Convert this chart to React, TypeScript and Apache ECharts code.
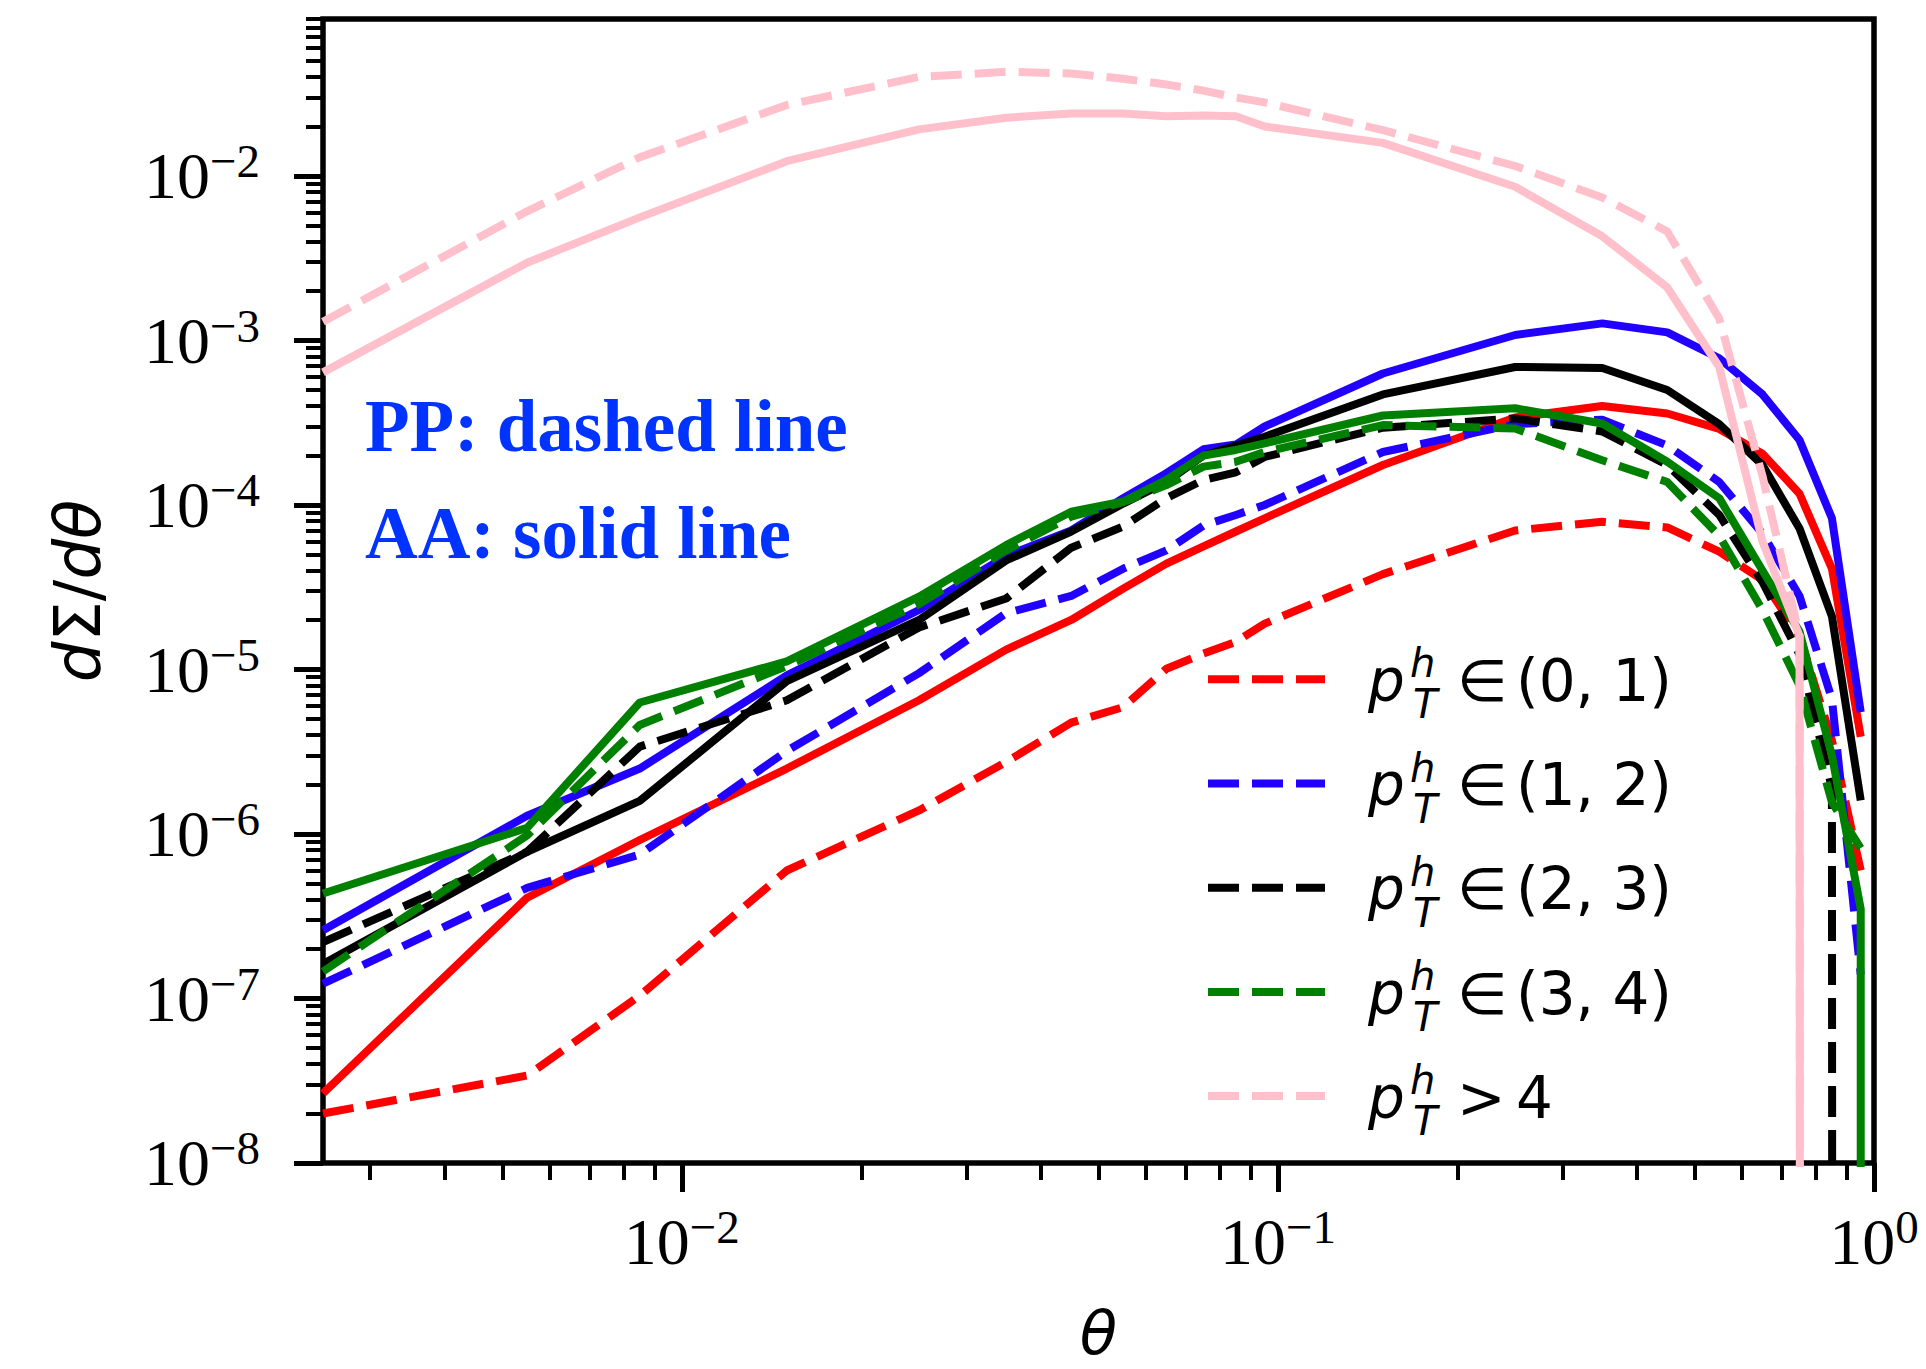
import React, { useEffect, useRef } from 'react';
import * as echarts from 'echarts';

// ---------- data (theta bin centres and dSigma/dtheta values) ----------
const theta = [0.0025, 0.0055, 0.0085, 0.015, 0.025, 0.035, 0.045, 0.055, 0.065, 0.075, 0.085, 0.095, 0.15, 0.25, 0.35, 0.45, 0.55, 0.65, 0.75, 0.85, 0.95];
// AA, pT in (3,4): the curve drops to zero right after its last point
const thetaAA34 = [...theta, 0.95];

const ppBin01 = [2.0e-8, 3.4e-8, 1.04e-7, 6.0e-7, 1.39e-6, 2.74e-6, 4.75e-6, 5.9e-6, 1.01e-5, 1.25e-5, 1.47e-5, 1.9e-5, 3.8e-5, 7.0e-5, 7.9e-5, 7.3e-5, 5.2e-5, 3.5e-5, 1.6e-5, 3.7e-6, 6.0e-7];
const aaBin01 = [2.65e-8, 4.1e-7, 9.2e-7, 2.5e-6, 6.5e-6, 1.32e-5, 2.0e-5, 3.1e-5, 4.4e-5, 5.6e-5, 6.9e-5, 8.3e-5, 1.75e-4, 3.4e-4, 4.0e-4, 3.6e-4, 2.9e-4, 2.05e-4, 1.17e-4, 4.1e-5, 3.9e-6];
const ppBin12 = [1.23e-7, 4.7e-7, 7.5e-7, 3.2e-6, 9.5e-6, 2.2e-5, 2.8e-5, 4.1e-5, 5.3e-5, 7.5e-5, 8.7e-5, 1.0e-4, 2.1e-4, 3.1e-4, 3.3e-4, 2.3e-4, 1.38e-4, 6.7e-5, 2.8e-5, 6.6e-6, 1.4e-7];
const aaBin12 = [2.6e-7, 1.29e-6, 2.5e-6, 9.2e-6, 2.3e-5, 4.9e-5, 7.0e-5, 1.1e-4, 1.56e-4, 2.18e-4, 2.33e-4, 3.0e-4, 6.3e-4, 1.08e-3, 1.27e-3, 1.12e-3, 7.8e-4, 4.7e-4, 2.48e-4, 8.3e-5, 5.5e-6];
const ppBin23 = [2.2e-7, 7.8e-7, 3.4e-6, 6.5e-6, 1.8e-5, 2.7e-5, 5.5e-5, 7.4e-5, 1.1e-4, 1.42e-4, 1.58e-4, 1.96e-4, 2.95e-4, 3.36e-4, 2.8e-4, 1.75e-4, 8.7e-5, 3.4e-5, 1.23e-5, 1.9e-6, 0];
const aaBin23 = [1.62e-7, 7.8e-7, 1.59e-6, 8.5e-6, 2.0e-5, 4.6e-5, 6.9e-5, 1.02e-4, 1.38e-4, 2.0e-4, 2.3e-4, 2.6e-4, 4.7e-4, 6.9e-4, 6.8e-4, 5.0e-4, 3.1e-4, 1.75e-4, 7.2e-5, 2.1e-5, 1.6e-6];
const ppBin34 = [1.46e-7, 9.8e-7, 4.6e-6, 1.05e-5, 2.5e-5, 5.3e-5, 8.5e-5, 1.04e-4, 1.32e-4, 1.71e-4, 1.83e-4, 2.1e-4, 3.06e-4, 2.92e-4, 1.87e-4, 1.38e-4, 6.5e-5, 2.3e-5, 8.0e-6, 1.56e-6, 8.2e-7];
const aaBin34 = [4.35e-7, 1.09e-6, 6.3e-6, 1.12e-5, 2.77e-5, 5.7e-5, 9.1e-5, 1.05e-4, 1.42e-4, 2.0e-4, 2.16e-4, 2.37e-4, 3.5e-4, 3.87e-4, 3.13e-4, 1.83e-4, 1.1e-4, 4.0e-5, 1.7e-5, 3.0e-6, 3.5e-7, 0];
const ppBin4 = [1.3e-3, 6.1e-3, 1.3e-2, 2.7e-2, 4.0e-2, 4.3e-2, 4.2e-2, 3.9e-2, 3.6e-2, 3.3e-2, 3.0e-2, 2.8e-2, 1.9e-2, 1.15e-2, 7.4e-3, 4.6e-3, 1.36e-3, 1.5e-4, 1.6e-5, 0, 0];
const aaBin4 = [6.4e-4, 2.97e-3, 5.6e-3, 1.23e-2, 1.92e-2, 2.26e-2, 2.4e-2, 2.4e-2, 2.31e-2, 2.33e-2, 2.31e-2, 2.0e-2, 1.59e-2, 8.6e-3, 4.3e-3, 2.1e-3, 6.9e-4, 6.0e-5, 1.6e-5, 0, 0];

const legendRelation = ['\u2208', '\u2208', '\u2208', '\u2208', '>'];
const legendRange = ['(0, 1)', '(1, 2)', '(2, 3)', '(3, 4)', '4'];

const xMajorTicks = [0.01, 0.1, 1];
const yMajorTicks = [1e-8, 1e-7, 1e-6, 1e-5, 1e-4, 1e-3, 1e-2];
const minorMultipliers = [2, 3, 4, 5, 6, 7, 8, 9];
const xDecades = [1e-3, 1e-2, 1e-1];
const yDecades = [1e-8, 1e-7, 1e-6, 1e-5, 1e-4, 1e-3, 1e-2];

const X_MIN = 0.0025, X_MAX = 1;
const Y_MIN = 0.99999e-8, Y_MAX = 0.09;

const xMinorTicks = xDecades.flatMap((d) => minorMultipliers.map((m) => m * d)).filter((v) => v >= X_MIN && v <= X_MAX);
const yMinorTicks = yDecades.flatMap((d) => minorMultipliers.map((m) => m * d)).filter((v) => v >= Y_MIN && v <= Y_MAX);

// ---------- styling ----------
const W = 1926, H = 1369;
const GRID = { left: 323, right: 52, top: 19, bottom: 206 };
const RED = '#ff0000', BLUE = '#2200ff', BLACK = '#000000', GREEN = '#008000', PINK = '#ffc0cb';
const TEXT_BLUE = '#0033ff';
const LW = 8;
const DASH = [31, 13];

const groups = [
  { key: '(0, 1)', color: RED, pp: ppBin01, aa: aaBin01, aaTheta: theta },
  { key: '(1, 2)', color: BLUE, pp: ppBin12, aa: aaBin12, aaTheta: theta },
  { key: '(2, 3)', color: BLACK, pp: ppBin23, aa: aaBin23, aaTheta: theta },
  { key: '(3, 4)', color: GREEN, pp: ppBin34, aa: aaBin34, aaTheta: thetaAA34 },
  { key: '> 4', color: PINK, pp: ppBin4, aa: aaBin4, aaTheta: theta },
];

// non-positive values are clipped far below the axis, as matplotlib does on a log axis
const clipLog = (v: number) => (v > 0 ? v : 1e-300);

const powLabel = (v: number) => {
  const e = Math.round(Math.log10(v));
  return `{b|10}{s|${e < 0 ? '\u2212' + -e : e}}`;
};

const labelRich = {
  b: { fontFamily: 'Liberation Serif', fontSize: 66, lineHeight: 66, verticalAlign: 'bottom', color: '#000' },
  s: { fontFamily: 'Liberation Serif', fontSize: 47, lineHeight: 48, verticalAlign: 'bottom', padding: [0, 0, 24, 0], color: '#000' },
};

function buildOption() {
  const series: any[] = [];
  groups.forEach((g) => {
    series.push({
      name: `PP ${g.key}`,
      type: 'line',
      xAxisIndex: 0,
      yAxisIndex: 0,
      data: theta.map((t, i) => [t, clipLog(g.pp[i])]),
      showSymbol: false,
      symbol: 'none',
      clip: true,
      silent: true,
      lineStyle: { color: g.color, width: LW, type: DASH, cap: 'butt', join: 'round' },
    });
    series.push({
      name: `AA ${g.key}`,
      type: 'line',
      xAxisIndex: 0,
      yAxisIndex: 0,
      data: g.aaTheta.map((t, i) => [t, clipLog(g.aa[i])]),
      showSymbol: false,
      symbol: 'none',
      clip: true,
      silent: true,
      lineStyle: { color: g.color, width: LW, type: 'solid', cap: 'butt', join: 'round' },
    });
  });

  const graphic: any[] = [
    {
      type: 'text', x: 365, y: 426, silent: true,
      style: { text: 'PP: dashed line', fill: TEXT_BLUE, fontFamily: 'Liberation Serif', fontWeight: 'bold', fontSize: 73, lineHeight: 76, align: 'left', verticalAlign: 'middle' },
    },
    {
      type: 'text', x: 365, y: 533, silent: true,
      style: { text: 'AA: solid line', fill: TEXT_BLUE, fontFamily: 'Liberation Serif', fontWeight: 'bold', fontSize: 73, lineHeight: 76, align: 'left', verticalAlign: 'middle' },
    },
  ];

  groups.forEach((g, i) => {
    const yc = 679.3 + 104.2 * i;
    graphic.push({
      type: 'line', silent: true,
      shape: { x1: 1208, y1: yc, x2: 1325, y2: yc },
      style: { stroke: g.color, lineWidth: LW, lineDash: DASH, lineCap: 'butt' },
    });
    graphic.push({
      type: 'text', x: 1368, y: yc + 1.7, silent: true,
      style: { text: 'p', fill: '#000', fontFamily: 'DejaVu Sans', fontStyle: 'italic', fontSize: 58, lineHeight: 50, align: 'left', verticalAlign: 'middle' },
    });
    graphic.push({
      type: 'text', x: 1410, y: yc - 16, silent: true,
      style: { text: 'h', fill: '#000', fontFamily: 'DejaVu Sans', fontStyle: 'italic', fontSize: 40, lineHeight: 30, align: 'left', verticalAlign: 'middle' },
    });
    graphic.push({
      type: 'text', x: 1413, y: yc + 25, silent: true,
      style: { text: 'T', fill: '#000', fontFamily: 'DejaVu Sans', fontStyle: 'italic', fontSize: 40, lineHeight: 30, align: 'left', verticalAlign: 'middle' },
    });
    graphic.push({
      type: 'text', x: 1457, y: yc + 1.7, silent: true,
      style: { text: legendRelation[i], fill: '#000', fontFamily: 'DejaVu Sans', fontSize: 58, lineHeight: 50, align: 'left', verticalAlign: 'middle' },
    });
    graphic.push({
      type: 'text', x: 1516, y: yc + 1.7, silent: true,
      style: { text: legendRange[i], fill: '#000', fontFamily: 'DejaVu Sans', fontSize: 58, lineHeight: 50, align: 'left', verticalAlign: 'middle' },
    });
  });

  return {
    animation: false,
    backgroundColor: '#ffffff',
    textStyle: { fontFamily: 'DejaVu Sans' },
    grid: {
      ...GRID,
      show: true,
      borderColor: '#000',
      borderWidth: 5.5,
      backgroundColor: 'transparent',
      containLabel: false,
      outerBoundsMode: 'none',
    },
    xAxis: [
      {
        type: 'log', logBase: 10, min: X_MIN, max: X_MAX, position: 'bottom', gridIndex: 0,
        axisLine: { show: false },
        splitLine: { show: false },
        minorTick: { show: false },
        axisTick: { show: true, inside: false, length: 29, lineStyle: { color: '#000', width: 5 }, customValues: xMajorTicks },
        axisLabel: { show: true, margin: 45, customValues: xMajorTicks, formatter: powLabel, rich: labelRich },
        name: '\u03b8',
        nameLocation: 'middle',
        nameGap: 142,
        nameTextStyle: { fontFamily: 'DejaVu Sans', fontStyle: 'italic', fontSize: 61, lineHeight: 54, color: '#000' },
      },
      {
        type: 'log', logBase: 10, min: X_MIN, max: X_MAX, position: 'bottom', gridIndex: 0,
        axisLine: { show: false },
        splitLine: { show: false },
        axisTick: { show: true, inside: false, length: 17, lineStyle: { color: '#000', width: 4 }, customValues: xMinorTicks },
        axisLabel: { show: false },
      },
    ],
    yAxis: [
      {
        type: 'log', logBase: 10, min: Y_MIN, max: Y_MAX, position: 'left', gridIndex: 0,
        axisLine: { show: false },
        splitLine: { show: false },
        minorTick: { show: false },
        axisTick: { show: true, inside: false, length: 29, lineStyle: { color: '#000', width: 5 }, customValues: yMajorTicks },
        axisLabel: { show: true, margin: 63, customValues: yMajorTicks, formatter: powLabel, rich: labelRich },
        name: '{i|d}{r|\u03a3/}{i|d\u03b8}',
        nameLocation: 'middle',
        nameRotate: 90,
        nameGap: 213,
        nameTextStyle: {
          color: '#000',
          rich: {
            i: { fontFamily: 'DejaVu Sans', fontStyle: 'italic', fontSize: 64, color: '#000' },
            r: { fontFamily: 'DejaVu Sans', fontSize: 64, color: '#000' },
          },
        },
      },
      {
        type: 'log', logBase: 10, min: Y_MIN, max: Y_MAX, position: 'left', gridIndex: 0,
        axisLine: { show: false },
        splitLine: { show: false },
        axisTick: { show: true, inside: false, length: 17, lineStyle: { color: '#000', width: 4 }, customValues: yMinorTicks },
        axisLabel: { show: false },
      },
    ],
    series,
    graphic,
  };
}

export default function App() {
  const ref = useRef<HTMLDivElement>(null);
  useEffect(() => {
    if (!ref.current) return;
    const chart = echarts.init(ref.current, null, { renderer: 'svg', width: W, height: H });
    chart.setOption(buildOption() as any);
    return () => chart.dispose();
  }, []);
  return (
    <div
      ref={ref}
      style={{ position: 'absolute', left: 0, top: 0, width: W, height: H, background: '#ffffff' }}
    />
  );
}
